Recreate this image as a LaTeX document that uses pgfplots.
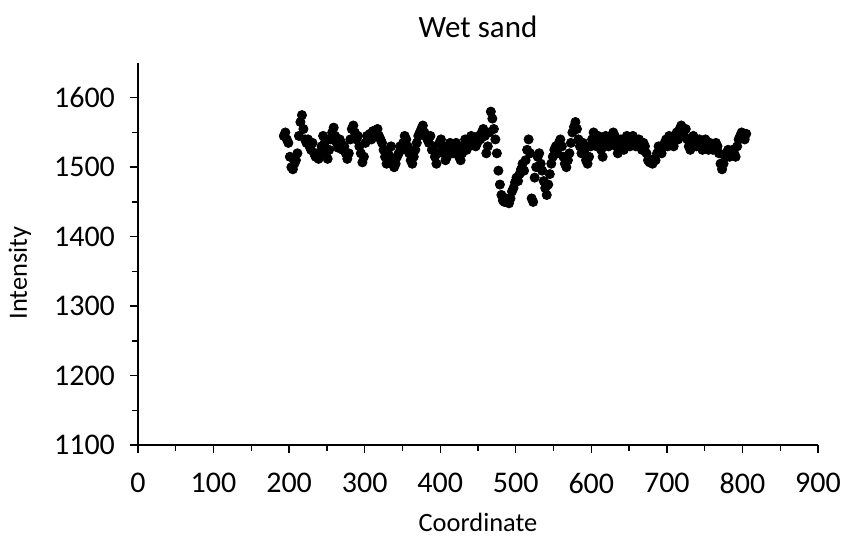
\documentclass[border=0pt]{standalone}
\usepackage{fontspec}
\setmainfont{Carlito}
\usepackage{pgfplots}
\pgfplotsset{compat=1.18}
\usepackage{pgfplotstable}
\pgfplotstableread{
x y
193 1545
195 1550
197 1540
199 1535
201 1515
203 1500
205 1497
207 1505
209 1510
211 1520
213 1545
215 1565
217 1575
219 1555
221 1540
223 1535
225 1540
227 1530
229 1525
231 1535
233 1520
235 1515
237 1520
239 1512
241 1520
243 1530
245 1545
247 1535
249 1520
251 1512
253 1525
255 1540
257 1550
259 1557
261 1545
263 1535
265 1528
267 1540
269 1535
271 1525
273 1530
275 1520
277 1512
279 1520
281 1540
283 1555
285 1560
287 1550
289 1540
291 1545
293 1530
295 1520
297 1507
299 1515
301 1535
303 1545
305 1540
307 1548
309 1540
311 1552
313 1550
315 1545
317 1555
319 1545
321 1540
323 1535
325 1525
327 1515
329 1505
331 1520
333 1510
335 1530
337 1512
339 1500
341 1505
343 1515
345 1520
347 1530
349 1525
351 1535
353 1545
355 1540
357 1530
359 1520
361 1510
363 1505
365 1515
367 1525
369 1535
371 1545
373 1550
375 1555
377 1560
379 1550
381 1545
383 1540
385 1535
387 1545
389 1525
391 1530
393 1515
395 1505
397 1520
399 1535
401 1540
403 1530
405 1520
407 1510
409 1515
411 1530
413 1535
415 1525
417 1520
419 1530
421 1535
423 1525
425 1515
427 1510
429 1520
431 1530
433 1540
435 1525
437 1530
439 1535
441 1545
443 1535
445 1540
447 1530
449 1535
451 1545
453 1540
455 1550
457 1555
459 1545
461 1520
463 1530
465 1550
467 1580
469 1570
471 1555
473 1540
475 1520
477 1495
479 1475
481 1460
483 1452
485 1450
487 1455
489 1450
491 1448
493 1455
495 1465
497 1470
499 1478
501 1485
503 1480
505 1490
507 1497
509 1505
511 1495
513 1510
515 1525
517 1540
519 1520
521 1455
523 1450
525 1485
527 1500
529 1515
531 1520
533 1505
535 1495
537 1480
539 1470
541 1460
543 1475
545 1490
547 1505
549 1515
551 1525
553 1530
555 1520
557 1535
559 1540
561 1530
563 1515
565 1505
567 1500
569 1510
571 1520
573 1535
575 1550
577 1558
579 1565
581 1555
583 1540
585 1530
587 1520
589 1535
591 1525
593 1510
595 1505
597 1515
599 1530
601 1540
603 1550
605 1540
607 1530
609 1545
611 1535
613 1525
615 1515
617 1530
619 1545
621 1540
623 1530
625 1535
627 1540
629 1550
631 1545
633 1530
635 1520
637 1535
639 1540
641 1530
643 1525
645 1535
647 1545
649 1540
651 1530
653 1535
655 1545
657 1540
659 1530
661 1535
663 1540
665 1530
667 1525
669 1535
671 1530
673 1520
675 1510
677 1507
679 1510
681 1505
683 1512
685 1510
687 1520
689 1530
691 1525
693 1520
695 1530
697 1535
699 1540
701 1530
703 1545
705 1535
707 1540
709 1530
711 1545
713 1550
715 1540
717 1555
719 1560
721 1550
723 1545
725 1555
727 1540
729 1530
731 1525
733 1535
735 1545
737 1540
739 1530
741 1535
743 1540
745 1530
747 1525
749 1535
751 1540
753 1530
755 1525
757 1535
759 1530
761 1525
763 1530
765 1535
767 1530
769 1520
771 1505
773 1497
775 1505
777 1515
779 1520
781 1525
783 1515
785 1520
787 1525
789 1520
791 1515
793 1530
795 1540
797 1545
799 1550
801 1545
803 1540
805 1548
}\datatable
\begin{document}
\begin{tikzpicture}
\useasboundingbox (-69pt,-48.5pt) rectangle (352.5pt,222.5pt);
\begin{axis}[
  at={(0,0)}, anchor=south west,
  scale only axis, width=340pt, height=191pt,
  xmin=0, xmax=900, ymin=1100, ymax=1650,
  xtick={0,100,...,900}, ytick={1100,1200,...,1600},
  minor x tick num=1, minor y tick num=1,
  axis x line*=bottom, axis y line*=left,
  axis line style={line width=0.7pt, black},
  tick align=outside,
  major tick length=4pt, minor tick length=3pt,
  every tick/.style={line width=0.7pt, black},
  /pgf/number format/assume math mode=true,
  /pgf/number format/1000 sep={},
  ticklabel style={font=\fontsize{15}{18}\selectfont},
  yticklabel style={xshift=-4pt},
  xticklabel style={yshift=-6.5pt},
  clip=false,
]
\addplot[only marks, mark=*, mark size=2.3pt, mark options={fill=black, draw=black}] table[x=x, y=y] {\datatable};
\end{axis}
\node[font=\fontsize{15.5}{18}\selectfont] at (170pt,209pt) {Wet sand};
\node[font=\fontsize{13.2}{16}\selectfont] at (170pt,-38.5pt) {Coordinate};
\node[font=\fontsize{13.2}{16}\selectfont, rotate=90] at (-59pt,86pt) {Intensity};
\end{tikzpicture}
\end{document}
